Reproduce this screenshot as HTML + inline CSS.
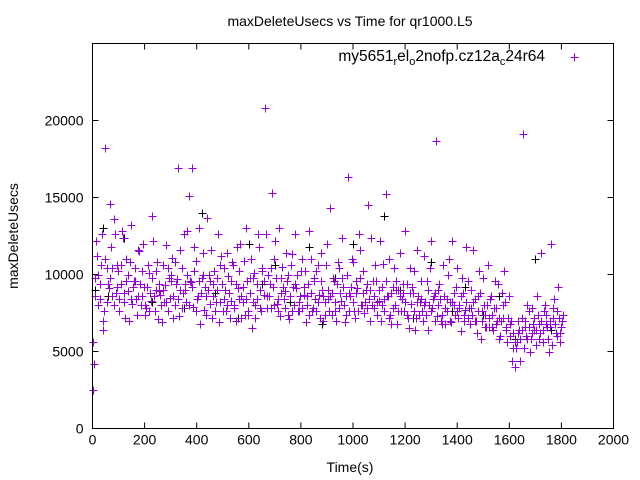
<!DOCTYPE html>
<html><head><meta charset="utf-8"><style>
html,body{margin:0;padding:0;background:#fff}
svg{display:block;font-family:"Liberation Sans",sans-serif}
</style></head><body>
<svg id="chart" width="640" height="480">
<text x="350" y="26" font-size="14" text-anchor="middle">maxDeleteUsecs vs Time for qr1000.L5</text>
<text x="350" y="472" font-size="14" text-anchor="middle">Time(s)</text>
<text transform="translate(18,236) rotate(-90)" font-size="14" text-anchor="middle">maxDeleteUsecs</text>
<g id="axes"></g>
<g id="marks"></g>
<g>
<text x="545" y="61" font-size="15.5" text-anchor="end">my5651<tspan font-size="11" dy="4">r</tspan><tspan dy="-4">el</tspan><tspan font-size="11" dy="4">o</tspan><tspan dy="-4">2nofp.cz12a</tspan><tspan font-size="11" dy="4">c</tspan><tspan dy="-4">24r64</tspan></text>
<path d="M570.5 57.5h8M574.5 53.5v8" stroke="#9400d3" stroke-width="1"/>
</g>
<rect x="92.5" y="43.5" width="521" height="385" fill="none" stroke="#000"/>
</svg>
<script>
const xTicks=[0,200,400,600,800,1000,1200,1400,1600,1800,2000];
const yTicks=[0,5000,10000,15000,20000];
const times=[0,9,18,27,36,45,54,63,72,81,90,99,108,117,126,135,144,153,162,171,180,189,198,207,216,225,234,243,252,261,270,279,288,297,306,315,324,333,342,351,360,369,378,387,396,405,414,423,432,441,450,459,468,477,486,495,504,513,522,531,540,549,558,567,576,585,594,603,612,621,630,639,648,657,666,675,684,693,702,711,720,729,738,747,756,765,774,783,792,801,810,819,828,837,846,855,864,873,882,891,900,909,918,927,936,945,954,963,972,981,990,999,1008,1017,1026,1035,1044,1053,1062,1071,1080,1089,1098,1107,1116,1125,1134,1143,1152,1161,1170,1179,1188,1197,1206,1215,1224,1233,1242,1251,1260,1269,1278,1287,1296,1305,1314,1323,1332,1341,1350,1359,1368,1377,1386,1395,1404,1413,1422,1431,1440,1449,1458,1467,1476,1485,1494,1503,1512,1521,1530,1539,1548,1557,1566,1575,1584,1593,1602,1611,1620,1629,1638,1647,1656,1665,1674,1683,1692,1701,1710,1719,1728,1737,1746,1755,1764,1773,1782,1791,1800];
const seriesA=[2.5,9.8,11.2,8.4,12.6,7.6,10.4,9.1,11.8,13.6,
8.8,10.2,9.4,12.4,7.2,8.9,10.8,8.1,9.6,7.4,
11.5,8.6,9.2,7.8,10.1,8.3,12.2,9.0,7.1,8.7,
10.6,9.3,7.6,8.5,11.1,8.0,9.7,7.3,10.4,12.6,
8.2,15.1,9.5,7.9,10.9,8.6,6.8,11.4,9.2,13.7,
8.1,7.2,10.2,9.0,6.9,11.2,8.4,7.6,9.9,8.3,
10.6,7.0,9.1,12.0,8.2,7.4,9.6,8.8,6.5,10.1,
9.4,11.8,7.6,8.7,12.6,10.0,7.8,9.2,12.2,8.4,
7.3,10.5,8.9,9.6,7.1,11.3,8.0,9.1,7.6,10.2,
8.7,6.9,9.4,11.0,7.8,8.4,10.6,7.2,9.0,8.2,
12.0,7.6,8.8,9.6,7.0,10.4,8.3,9.2,7.4,16.3,
8.6,10.8,7.2,9.1,11.6,8.0,7.5,9.4,8.4,12.4,
7.8,9.6,8.3,7.0,10.7,15.2,8.6,7.4,9.2,8.0,
6.8,11.4,8.4,7.6,9.4,6.5,8.1,10.2,7.2,8.6,
9.6,7.0,8.2,6.4,10.4,7.8,8.8,7.3,9.4,6.8,
8.6,7.6,11.0,6.9,8.0,9.2,7.2,6.3,8.8,7.7,
9.6,6.8,7.4,8.4,6.2,10.2,7.6,8.0,6.6,7.2,
8.6,6.4,7.8,9.4,6.0,7.2,8.2,5.6,6.8,4.4,
4.0,5.6,6.4,7.2,5.2,6.0,7.6,5.8,6.8,5.4,
7.4,6.2,5.6,8.0,6.6,7.0,5.4,8.4,6.0,7.2,
6.6];
const seriesB=[4.2,12.2,8.0,10.6,6.4,18.2,9.4,14.6,8.6,12.6,
10.6,7.6,12.8,8.2,11.0,7.0,13.2,9.6,8.4,11.6,
8.0,12.0,7.4,10.6,8.8,13.8,7.6,10.8,8.9,6.9,
8.2,11.9,9.8,10.0,7.2,9.4,16.9,11.6,8.8,9.0,
12.8,9.6,16.9,11.8,8.4,13.0,9.8,7.7,8.6,10.0,
11.6,9.4,8.2,12.6,10.6,7.6,9.0,11.4,7.2,10.8,
8.0,11.8,8.4,7.2,10.9,13.0,7.4,11.0,9.8,8.0,
12.6,7.8,10.4,20.8,8.6,9.4,15.3,11.0,8.1,13.0,
9.8,8.4,11.4,7.4,10.6,9.2,12.6,7.6,8.6,11.0,
10.2,8.6,12.8,7.6,9.6,10.2,8.7,11.4,7.0,10.6,
8.4,14.3,9.8,7.6,10.8,8.8,12.4,6.9,10.0,8.8,
11.0,7.6,9.6,12.6,8.0,10.2,9.0,14.5,7.0,9.6,
10.6,8.2,12.2,9.2,7.6,8.6,11.0,6.8,10.4,9.6,
9.0,7.6,8.8,12.8,7.2,10.4,8.8,6.4,11.6,8.2,
7.6,11.2,9.6,8.0,12.2,8.6,18.7,9.0,7.0,10.6,
6.8,10.0,8.2,12.2,7.4,10.4,8.0,9.8,7.0,11.8,
7.8,9.0,11.6,7.0,8.6,5.8,9.8,6.6,10.6,8.4,
6.6,9.6,7.0,5.8,8.8,10.2,6.4,8.6,7.0,6.2,
5.2,7.0,4.4,19.1,6.6,8.0,5.0,7.8,6.4,8.6,
5.8,11.4,7.6,6.8,5.0,12.0,7.8,6.2,9.2,5.6,
7.4];
const seriesC=[5.6,8.6,10.0,9.4,7.0,11.0,8.2,9.8,10.4,8.0,
9.2,8.4,10.6,8.8,9.6,10.0,8.4,9.2,10.4,8.6,
9.4,10.2,8.0,9.2,7.6,9.8,8.6,10.2,9.4,8.0,
9.0,8.2,10.4,9.6,8.6,10.8,8.4,9.0,7.8,9.4,
10.0,8.0,9.2,10.2,7.6,9.6,8.8,10.0,7.4,9.0,
9.6,8.6,7.6,9.8,8.2,9.4,10.4,8.0,8.8,9.6,
7.8,9.4,10.2,8.6,9.2,8.4,7.6,9.8,8.2,7.2,
8.4,9.0,10.2,9.6,7.8,8.6,10.4,8.0,9.8,7.6,
8.8,9.2,7.8,10.0,8.6,7.6,9.4,10.0,8.2,7.8,
9.2,8.0,7.4,8.8,9.8,7.6,8.2,9.6,8.6,7.4,
9.0,8.6,7.4,8.2,9.4,7.8,9.8,8.0,8.6,7.6,
9.2,8.2,8.8,7.6,9.8,8.8,8.2,7.8,9.0,8.0,
8.6,7.4,9.0,8.0,8.4,9.6,7.2,8.8,7.8,9.0,
7.6,8.6,9.4,8.2,7.4,8.8,9.2,7.6,8.2,7.4,
8.4,8.0,7.4,9.0,7.6,8.4,7.0,8.0,8.4,7.4,
7.8,8.4,7.0,8.2,8.8,7.6,7.8,8.6,7.4,8.2,
7.2,7.8,8.2,7.0,7.6,8.8,7.0,7.4,8.0,6.6,
7.4,7.8,6.8,7.2,7.0,8.0,6.6,7.2,6.0,5.2,
5.6,6.2,5.8,6.4,7.0,5.8,6.6,6.2,7.2,6.4,
6.8,7.0,6.4,7.4,5.8,6.6,7.2,6.8,7.6,6.2,
7.0];
const blackTimes=[10,40,60,120,230,300,350,420,470,560,600,650,700,760,830,880,930,1000,1060,1120,1180,1230,1300,1380,1430,1500,1560,1620,1700,1760];
const blackValues=[9.0,13.0,8.6,12.4,8.2,9.6,7.8,14.0,8.8,7.2,12.0,9.4,10.6,8.2,11.8,6.8,9.8,12.0,8.4,13.8,9.0,7.2,10.8,7.6,9.2,7.4,8.6,5.8,11.0,6.4];

const NS="http://www.w3.org/2000/svg";
const L=92.5,R=613.5,T=43.5,B=428.5;
function xs(v){return L+(v/2000)*(R-L);}
function ys(v){return B-(v/25000)*(B-T);}
const axes=document.getElementById('axes');
const marks=document.getElementById('marks');
xTicks.forEach(t=>{
  const x=xs(t);
  const p=document.createElementNS(NS,'path');
  p.setAttribute('d',`M${x} ${B}v-6M${x} ${T}v6`);
  p.setAttribute('stroke','#000');
  
  
  axes.appendChild(p);
  const tx=document.createElementNS(NS,'text');
  tx.setAttribute('x',x);tx.setAttribute('y',B+16);
  tx.setAttribute('font-size','14');tx.setAttribute('text-anchor','middle');
  tx.textContent=t;
  
  
  axes.appendChild(tx);
});
yTicks.forEach(t=>{
  const y=ys(t);
  const p=document.createElementNS(NS,'path');
  p.setAttribute('d',`M${L} ${y}h6M${R} ${y}h-6`);
  p.setAttribute('stroke','#000');
  
  
  axes.appendChild(p);
  const tx=document.createElementNS(NS,'text');
  tx.setAttribute('x',L-9);tx.setAttribute('y',y+5);
  tx.setAttribute('font-size','14');tx.setAttribute('text-anchor','end');
  tx.textContent=t;
  
  
  axes.appendChild(tx);
});
function plus(t,v,color){
  const x=Math.round(xs(t))+0.5,y=Math.round(ys(v*1000))+0.5;
  const p=document.createElementNS(NS,'path');
  p.setAttribute('d',`M${x-4} ${y}h8M${x} ${y-4}v8`);
  p.setAttribute('stroke',color);
  
  
  marks.appendChild(p);
}
blackTimes.forEach((t,i)=>plus(t,blackValues[i],'#000'));
times.forEach((t,i)=>plus(t,seriesA[i],'#9400d3'));
times.forEach((t,i)=>plus(t+4.5,seriesB[i],'#9400d3'));
times.forEach((t,i)=>plus(t+2.5,seriesC[i],'#9400d3'));
</script>
</body></html>
